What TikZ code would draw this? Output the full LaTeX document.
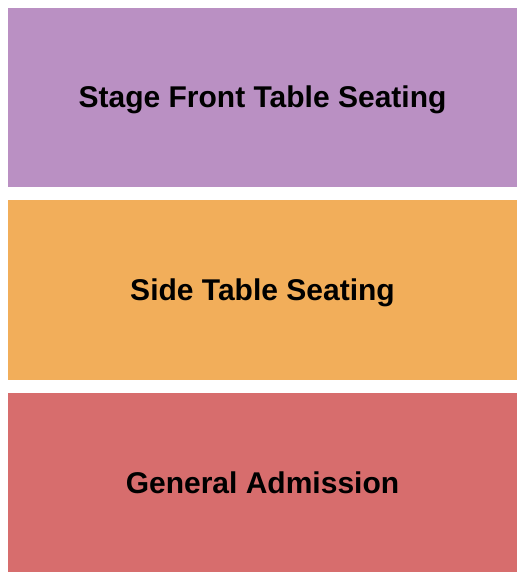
\documentclass[tikz,border=0pt]{standalone}
\usepackage{fontspec}
\setmainfont{Liberation Sans}
\definecolor{cpurple}{HTML}{BA90C3}
\definecolor{corange}{HTML}{F2AE5A}
\definecolor{cred}{HTML}{D76D6D}
\begin{document}
\begin{tikzpicture}[x=1pt,y=-1pt,
  sect/.style={font=\bfseries\fontsize{30}{34}\selectfont, text=black}]
\useasboundingbox[fill=white] (0,0) rectangle (525,580);
\fill[cpurple] (8,8) rectangle (517,187);
\fill[corange] (8,200) rectangle (517,380);
\fill[cred] (8,393) rectangle (517,572);
\node[sect] (a) at (262.5,100) {Stage Front Table Seating};
\node[sect] (b) at (262.5,292.5) {Side Table Seating};
\node[sect] (c) at (262.5,482.5) {General Admission};
\end{tikzpicture}
\end{document}
